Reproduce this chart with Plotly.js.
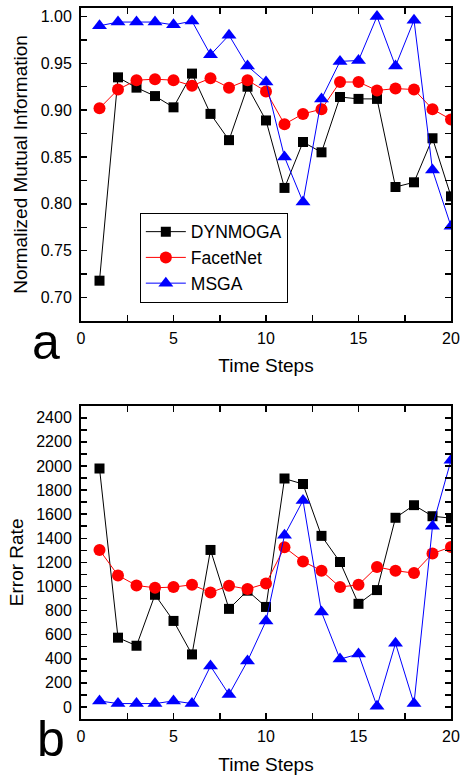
<!DOCTYPE html>
<html>
<head>
<meta charset="utf-8">
<script src="https://cdn.plot.ly/plotly-3.0.1.min.js"></script>
<style>html,body{margin:0;padding:0;background:#fff;}#chart{width:462px;height:777px;}</style>
</head>
<body>
<div id="chart"></div>
<script>
const steps = [1,2,3,4,5,6,7,8,9,10,11,12,13,14,15,16,17,18,19,20];

// Panel a: Normalized Mutual Information
const nmiDYNMOGA = [0.718,0.935,0.924,0.915,0.903,0.939,0.896,0.868,0.925,0.889,0.817,0.866,0.855,0.914,0.912,0.912,0.818,0.823,0.870,0.808];
const nmiFacetNet = [0.902,0.922,0.932,0.933,0.932,0.926,0.934,0.924,0.932,0.920,0.885,0.896,0.901,0.930,0.930,0.921,0.923,0.922,0.901,0.890];
const nmiMSGA = [0.990,0.994,0.994,0.994,0.991,0.995,0.959,0.980,0.947,0.930,0.850,0.802,0.912,0.952,0.953,1.000,0.947,0.996,0.836,0.776];

// Panel b: Error Rate
const errDYNMOGA = [1980,575,508,931,714,436,1303,814,965,830,1895,1850,1420,1203,856,970,1570,1675,1583,1567];
const errFacetNet = [1303,1092,1008,989,995,1014,950,1006,978,1025,1325,1208,1131,995,1014,1162,1131,1111,1273,1328];
const errMSGA = [50,28,28,28,50,28,339,103,381,714,1425,1714,787,397,439,6,528,28,1500,2047];

const seriesNames = ['DYNMOGA','FacetNet','MSGA'];
const colors = ['#000000','#ff0000','#0000ff'];
const symbols = ['square','circle','triangle-up'];
const sizes = [10,12,13];

const FONT = 'Liberation Sans, Arial, sans-serif';

function mk(y, i, xa, ya, showlegend){
  return {
    x: steps, y: y, name: seriesNames[i], type:'scatter', mode:'lines+markers',
    xaxis: xa, yaxis: ya, showlegend: showlegend,
    line:{color:colors[i], width:1},
    marker:{symbol:symbols[i], size:sizes[i], color:colors[i], line:{width:0}}
  };
}

const data = [
  mk(nmiDYNMOGA,0,'x','y',true),
  mk(nmiFacetNet,1,'x','y',true),
  mk(nmiMSGA,2,'x','y',true),
  mk(errDYNMOGA,0,'x2','y2',false),
  mk(errFacetNet,1,'x2','y2',false),
  mk(errMSGA,2,'x2','y2',false)
];

function xax(anchor){
  return {
    anchor: anchor, domain:[0,1], range:[0,20], dtick:5, tick0:0,
    showline:true, linewidth:2, linecolor:'#000', mirror:'ticks',
    ticks:'inside', ticklen:6, tickwidth:1.5, tickcolor:'#000',
    minor:{ticks:'inside', ticklen:6, dtick:2.5, tick0:0, tickwidth:1.5, tickcolor:'#000'},
    showgrid:false, zeroline:false, ticklabelstandoff:2,
    tickfont:{family:FONT, size:16, color:'#000'},
    title:{text:'Time Steps', font:{family:FONT, size:19, color:'#000'}, standoff:13},
    automargin:false
  };
}

const layout = {
  width:462, height:777,
  margin:{l:81, r:11, t:8, b:58},
  paper_bgcolor:'#fff', plot_bgcolor:'#fff',
  font:{family:FONT, color:'#000'},
  showlegend:true,
  legend:{
    x:0.159, y:0.712, xanchor:'left', yanchor:'top',
    bgcolor:'#fff', bordercolor:'#000', borderwidth:1,
    font:{family:FONT, size:17.5, color:'#000'},
    itemwidth:40, tracegroupgap:0
  },
  xaxis: xax('y'),
  xaxis2: xax('y2'),
  yaxis: {
    anchor:'x', domain:[0.5598,1], range:[0.675,1.009], dtick:0.05, tick0:0.70,
    tickformat:'.2f',
    showline:true, linewidth:2, linecolor:'#000', mirror:'ticks',
    ticks:'inside', ticklen:6, tickwidth:1.5, tickcolor:'#000',
    minor:{ticks:'inside', ticklen:6, dtick:0.025, tick0:0.70, tickwidth:1.5, tickcolor:'#000'},
    showgrid:false, zeroline:false, ticklabelstandoff:4,
    tickfont:{family:FONT, size:16, color:'#000'},
    title:{text:'Normalized Mutual Information', font:{family:FONT, size:19, color:'#000'}, standoff:8},
    automargin:false
  },
  yaxis2: {
    anchor:'x2', domain:[0,0.4406], range:[-100,2500], dtick:200, tick0:0,
    showline:true, linewidth:2, linecolor:'#000', mirror:'ticks',
    ticks:'inside', ticklen:6, tickwidth:1.5, tickcolor:'#000',
    minor:{ticks:'inside', ticklen:6, dtick:100, tick0:0, tickwidth:1.5, tickcolor:'#000'},
    showgrid:false, zeroline:false, ticklabelstandoff:4,
    tickfont:{family:FONT, size:16, color:'#000'},
    title:{text:'Error Rate', font:{family:FONT, size:19, color:'#000'}, standoff:8},
    automargin:false
  },
  annotations:[
    {text:'a', xref:'paper', yref:'paper', x:-0.0946, y:0.530, xanchor:'center', yanchor:'middle', showarrow:false, font:{family:FONT, size:50, color:'#000'}},
    {text:'b', xref:'paper', yref:'paper', x:-0.0811, y:-0.028, xanchor:'center', yanchor:'middle', showarrow:false, font:{family:FONT, size:50, color:'#000'}}
  ]
};

Plotly.newPlot('chart', data, layout, {displayModeBar:false, staticPlot:true});
</script>
</body>
</html>
